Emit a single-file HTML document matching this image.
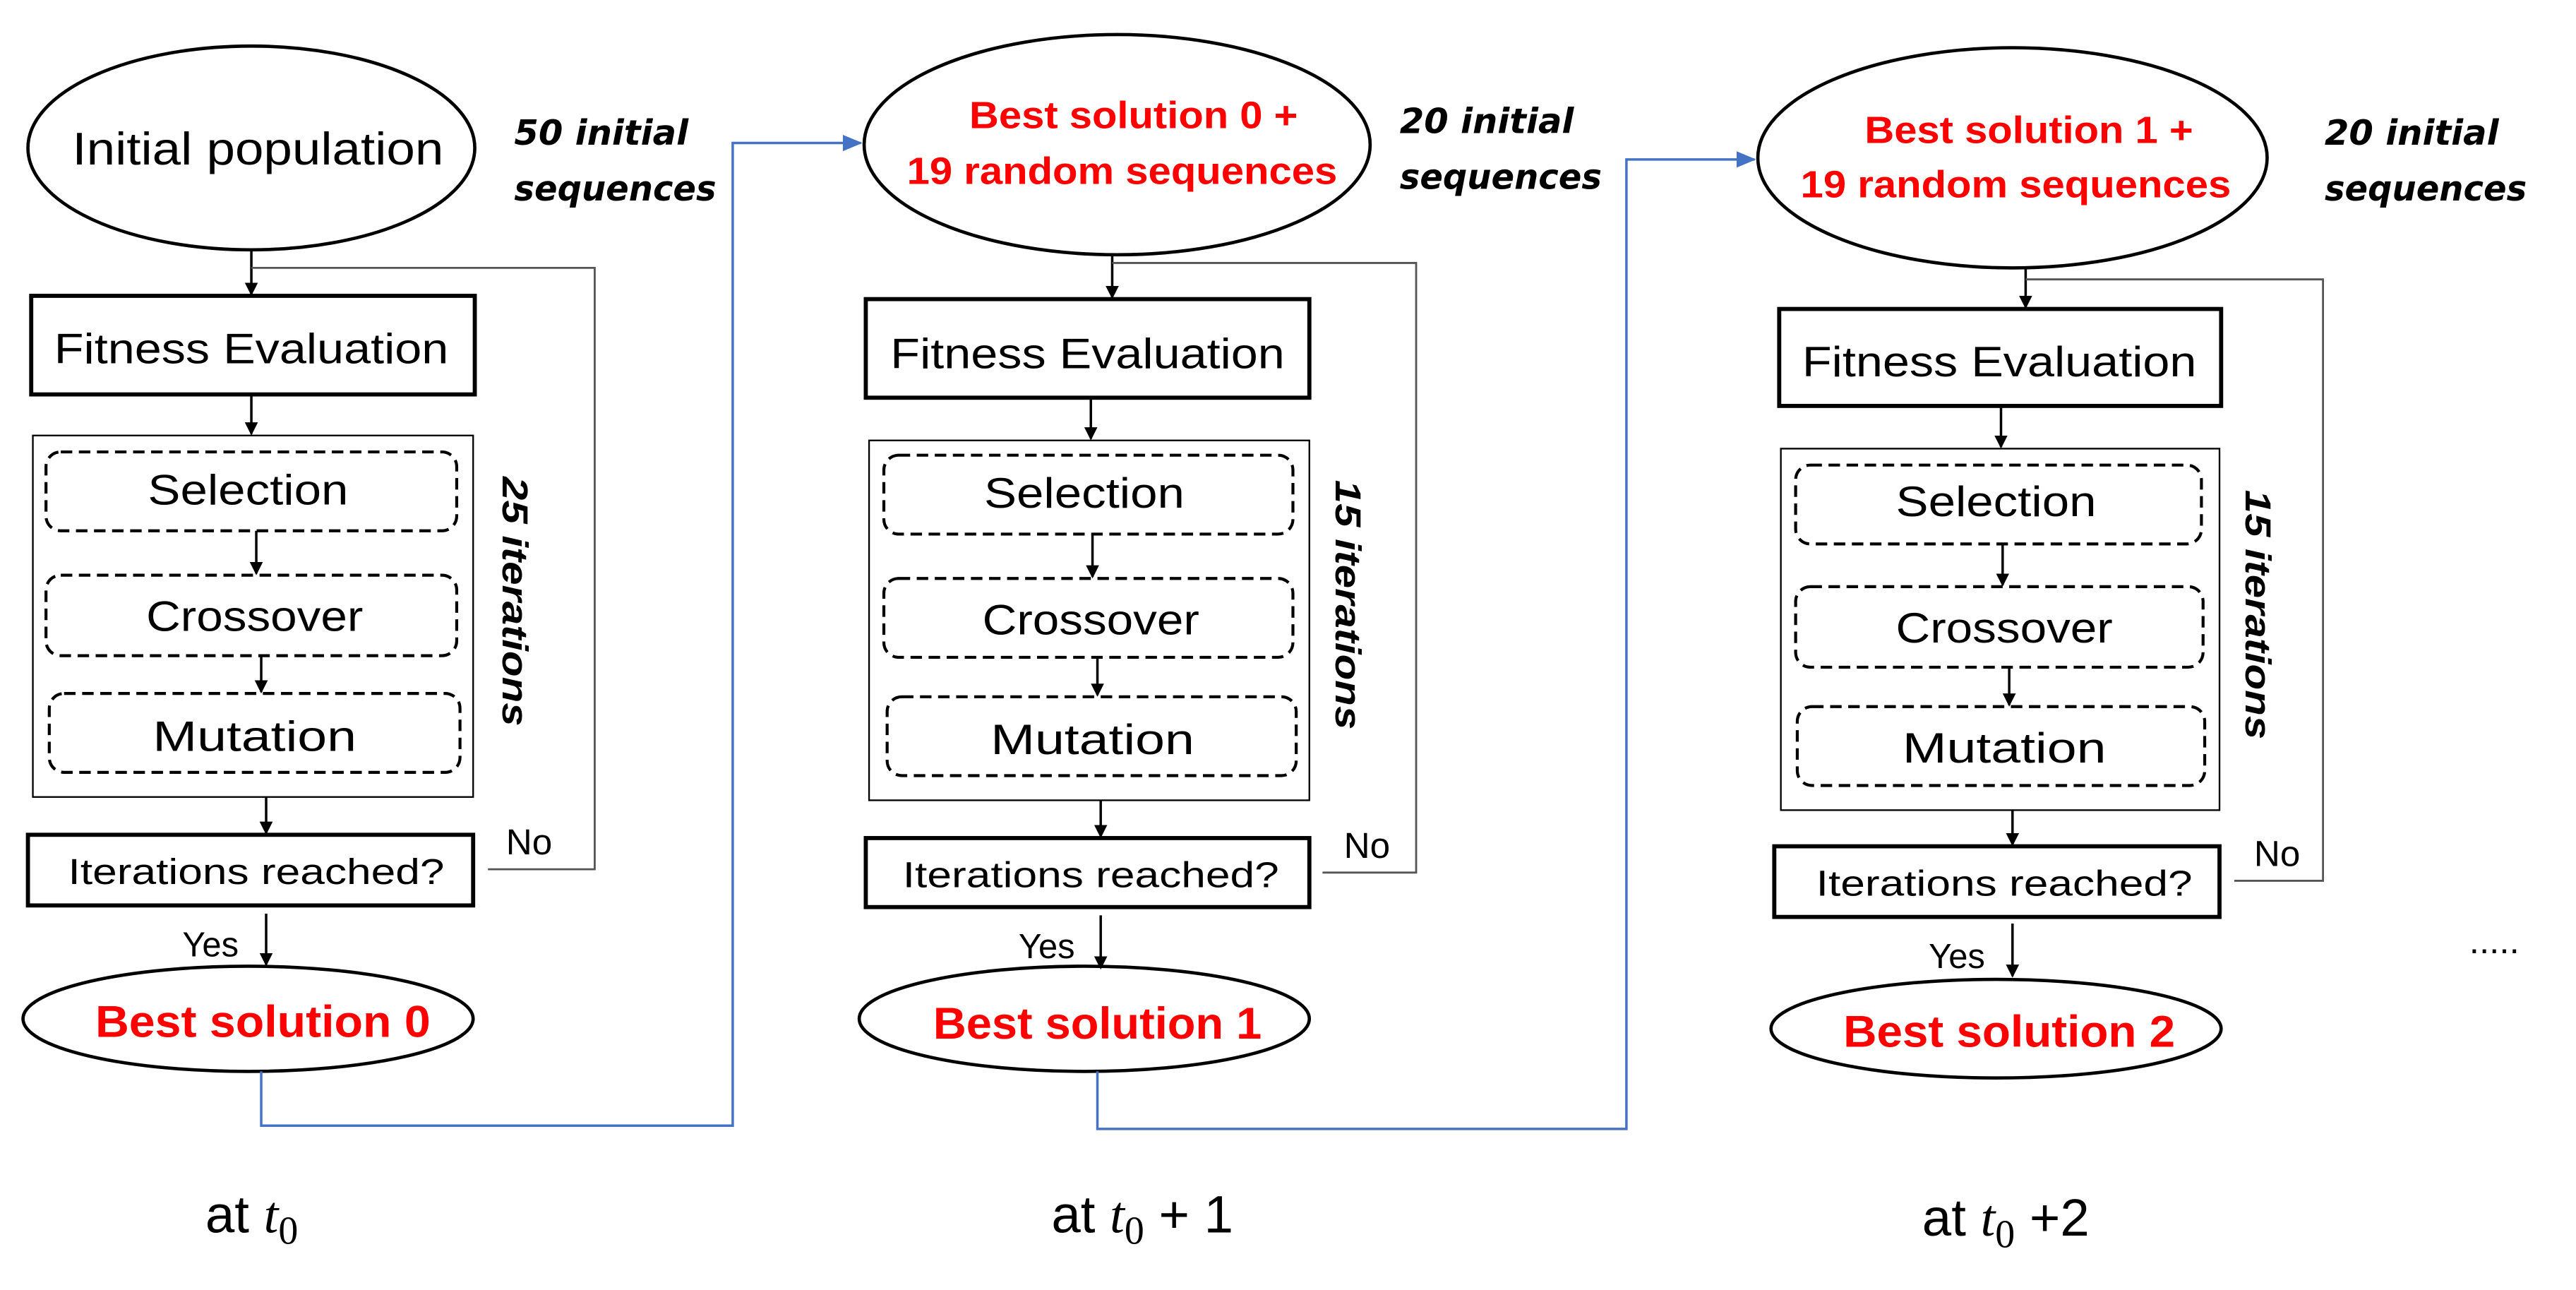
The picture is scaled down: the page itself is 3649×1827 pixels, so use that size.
<!DOCTYPE html>
<html><head><meta charset="utf-8"><style>
html,body{margin:0;padding:0;background:#fff;}
svg{display:block;}
text{font-family:"Liberation Sans",sans-serif;}
.b{font-size:26px;fill:#000;}
.it{font-family:"DejaVu Sans","Liberation Sans",sans-serif;font-weight:bold;font-style:italic;font-size:21px;fill:#000;}
.red{font-weight:bold;fill:#ff0000;}
</style></head><body>
<svg width="3649" height="1827" viewBox="0 0 1568 785" xmlns="http://www.w3.org/2000/svg">
<defs>
<marker id="ah" markerWidth="8" markerHeight="8" refX="7" refY="4" orient="auto" markerUnits="userSpaceOnUse"><path d="M0,0 L8,4 L0,8 z" fill="#000"/></marker>
<marker id="bh" markerWidth="12" markerHeight="10" refX="11" refY="5" orient="auto" markerUnits="userSpaceOnUse"><path d="M0,0 L12,5 L0,10 z" fill="#4472c4"/></marker>
</defs>
<rect width="1568" height="785" fill="#fff"/>
<g fill="none" stroke="#000">
<ellipse cx="153" cy="90" rx="136" ry="62" stroke-width="2"/>
<line x1="153" y1="152" x2="153" y2="179" stroke-width="1.5" marker-end="url(#ah)"/>
<polyline points="153,163 362,163 362,529 297,529" stroke="#555" stroke-width="1.2"/>
<rect x="19" y="180" width="270" height="60" stroke-width="2.5"/>
<line x1="153" y1="240" x2="153" y2="264" stroke-width="1.5" marker-end="url(#ah)"/>
<rect x="20" y="265" width="268" height="220" stroke-width="1"/>
<rect x="28" y="275" width="250" height="48" rx="9" stroke-width="1.8" stroke-dasharray="7,4"/>
<rect x="28" y="350" width="250" height="49" rx="9" stroke-width="1.8" stroke-dasharray="7,4"/>
<rect x="30" y="422" width="250" height="48" rx="9" stroke-width="1.8" stroke-dasharray="7,4"/>
<line x1="156" y1="323" x2="156" y2="349" stroke-width="1.5" marker-end="url(#ah)"/>
<line x1="159" y1="399" x2="159" y2="421" stroke-width="1.5" marker-end="url(#ah)"/>
<line x1="162" y1="485" x2="162" y2="507" stroke-width="1.5" marker-end="url(#ah)"/>
<rect x="17" y="508" width="271" height="43" stroke-width="2.5"/>
<line x1="162" y1="556" x2="162" y2="587" stroke-width="1.5" marker-end="url(#ah)"/>
<ellipse cx="151" cy="620" rx="137" ry="32" stroke-width="2"/>
<ellipse cx="680" cy="88" rx="154" ry="67" stroke-width="2"/>
<line x1="677" y1="155" x2="677" y2="181" stroke-width="1.5" marker-end="url(#ah)"/>
<polyline points="677,160 862,160 862,531 805,531" stroke="#555" stroke-width="1.2"/>
<rect x="527" y="182" width="270" height="60" stroke-width="2.5"/>
<line x1="664" y1="242" x2="664" y2="267" stroke-width="1.5" marker-end="url(#ah)"/>
<rect x="529" y="268" width="268" height="219" stroke-width="1"/>
<rect x="538" y="277" width="249" height="48" rx="9" stroke-width="1.8" stroke-dasharray="7,4"/>
<rect x="538" y="352" width="249" height="48" rx="9" stroke-width="1.8" stroke-dasharray="7,4"/>
<rect x="540" y="424" width="249" height="48" rx="9" stroke-width="1.8" stroke-dasharray="7,4"/>
<line x1="665" y1="325" x2="665" y2="351" stroke-width="1.5" marker-end="url(#ah)"/>
<line x1="668" y1="400" x2="668" y2="423" stroke-width="1.5" marker-end="url(#ah)"/>
<line x1="670" y1="487" x2="670" y2="509" stroke-width="1.5" marker-end="url(#ah)"/>
<rect x="527" y="510" width="270" height="42" stroke-width="2.5"/>
<line x1="670" y1="557" x2="670" y2="589" stroke-width="1.5" marker-end="url(#ah)"/>
<ellipse cx="660" cy="620" rx="137" ry="32" stroke-width="2"/>
<ellipse cx="1225" cy="96" rx="155" ry="67" stroke-width="2"/>
<line x1="1233" y1="163" x2="1233" y2="187" stroke-width="1.5" marker-end="url(#ah)"/>
<polyline points="1233,170 1414,170 1414,536 1360,536" stroke="#555" stroke-width="1.2"/>
<rect x="1083" y="188" width="269" height="59" stroke-width="2.5"/>
<line x1="1218" y1="247" x2="1218" y2="272" stroke-width="1.5" marker-end="url(#ah)"/>
<rect x="1084" y="273" width="267" height="220" stroke-width="1"/>
<rect x="1093" y="283" width="247" height="48" rx="9" stroke-width="1.8" stroke-dasharray="7,4"/>
<rect x="1093" y="357" width="248" height="49" rx="9" stroke-width="1.8" stroke-dasharray="7,4"/>
<rect x="1094" y="430" width="248" height="48" rx="9" stroke-width="1.8" stroke-dasharray="7,4"/>
<line x1="1219" y1="331" x2="1219" y2="356" stroke-width="1.5" marker-end="url(#ah)"/>
<line x1="1223" y1="406" x2="1223" y2="429" stroke-width="1.5" marker-end="url(#ah)"/>
<line x1="1225" y1="493" x2="1225" y2="514" stroke-width="1.5" marker-end="url(#ah)"/>
<rect x="1080" y="515" width="271" height="43" stroke-width="2.5"/>
<line x1="1225" y1="562" x2="1225" y2="594" stroke-width="1.5" marker-end="url(#ah)"/>
<ellipse cx="1215" cy="626" rx="137" ry="30" stroke-width="2"/>
</g>
<g fill="none" stroke="#4472c4" stroke-width="1.5">
<polyline points="159,652 159,685 446,685 446,87 524,87" marker-end="url(#bh)"/>
<polyline points="668,652 668,687 990,687 990,97 1068,97" marker-end="url(#bh)"/>
</g>
<g text-anchor="middle">
<text x="157" y="100" font-size="28" textLength="226" lengthAdjust="spacingAndGlyphs">Initial population</text>
<text x="153" y="221" class="b" textLength="240" lengthAdjust="spacingAndGlyphs">Fitness Evaluation</text>
<text x="151" y="307" class="b" textLength="122" lengthAdjust="spacingAndGlyphs">Selection</text>
<text x="155" y="384" class="b" textLength="132" lengthAdjust="spacingAndGlyphs">Crossover</text>
<text x="155" y="457" class="b" textLength="124" lengthAdjust="spacingAndGlyphs">Mutation</text>
<text x="156" y="538" font-size="22" textLength="229" lengthAdjust="spacingAndGlyphs">Iterations reached?</text>
<text x="160" y="631" font-size="27" class="red" textLength="204" lengthAdjust="spacingAndGlyphs">Best solution 0</text>
<text x="690" y="78" font-size="23" class="red" textLength="200" lengthAdjust="spacingAndGlyphs">Best solution 0 +</text>
<text x="683" y="112" font-size="23" class="red" textLength="262" lengthAdjust="spacingAndGlyphs">19 random sequences</text>
<text x="662" y="224" class="b" textLength="240" lengthAdjust="spacingAndGlyphs">Fitness Evaluation</text>
<text x="660" y="309" class="b" textLength="122" lengthAdjust="spacingAndGlyphs">Selection</text>
<text x="664" y="386" class="b" textLength="132" lengthAdjust="spacingAndGlyphs">Crossover</text>
<text x="665" y="459" class="b" textLength="124" lengthAdjust="spacingAndGlyphs">Mutation</text>
<text x="664" y="540" font-size="22" textLength="229" lengthAdjust="spacingAndGlyphs">Iterations reached?</text>
<text x="668" y="632" font-size="27" class="red" textLength="200" lengthAdjust="spacingAndGlyphs">Best solution 1</text>
<text x="1235" y="87" font-size="23" class="red" textLength="200" lengthAdjust="spacingAndGlyphs">Best solution 1 +</text>
<text x="1227" y="120" font-size="23" class="red" textLength="262" lengthAdjust="spacingAndGlyphs">19 random sequences</text>
<text x="1217" y="229" class="b" textLength="240" lengthAdjust="spacingAndGlyphs">Fitness Evaluation</text>
<text x="1215" y="314" class="b" textLength="122" lengthAdjust="spacingAndGlyphs">Selection</text>
<text x="1220" y="391" class="b" textLength="132" lengthAdjust="spacingAndGlyphs">Crossover</text>
<text x="1220" y="464" class="b" textLength="124" lengthAdjust="spacingAndGlyphs">Mutation</text>
<text x="1220" y="545" font-size="22" textLength="229" lengthAdjust="spacingAndGlyphs">Iterations reached?</text>
<text x="1223" y="637" font-size="27" class="red" textLength="202" lengthAdjust="spacingAndGlyphs">Best solution 2</text>
</g>
<text x="313" y="88" class="it" textLength="106" lengthAdjust="spacingAndGlyphs">50 initial</text>
<text x="313" y="122" class="it" textLength="123" lengthAdjust="spacingAndGlyphs">sequences</text>
<text x="852" y="81" class="it" textLength="106" lengthAdjust="spacingAndGlyphs">20 initial</text>
<text x="852" y="115" class="it" textLength="123" lengthAdjust="spacingAndGlyphs">sequences</text>
<text x="1415" y="88" class="it" textLength="106" lengthAdjust="spacingAndGlyphs">20 initial</text>
<text x="1415" y="122" class="it" textLength="123" lengthAdjust="spacingAndGlyphs">sequences</text>
<text transform="translate(306,290) rotate(90)" font-size="22" font-weight="bold" font-style="italic" textLength="152" lengthAdjust="spacingAndGlyphs">25 iterations</text>
<text transform="translate(813,292) rotate(90)" font-size="22" font-weight="bold" font-style="italic" textLength="152" lengthAdjust="spacingAndGlyphs">15 iterations</text>
<text transform="translate(1367,298) rotate(90)" font-size="22" font-weight="bold" font-style="italic" textLength="152" lengthAdjust="spacingAndGlyphs">15 iterations</text>
<text x="308" y="520" font-size="22">No</text>
<text x="818" y="522" font-size="22">No</text>
<text x="1372" y="527" font-size="22">No</text>
<text x="111" y="582" font-size="21">Yes</text>
<text x="620" y="583" font-size="21">Yes</text>
<text x="1174" y="589" font-size="21">Yes</text>
<text x="1503" y="580" font-size="22">.....</text>
<text x="125" y="750" font-size="32">at <tspan font-family="Liberation Serif,serif" font-style="italic">t</tspan><tspan font-family="Liberation Serif,serif" font-size="24" dy="7">0</tspan></text>
<text x="640" y="750" font-size="32">at <tspan font-family="Liberation Serif,serif" font-style="italic">t</tspan><tspan font-family="Liberation Serif,serif" font-size="24" dy="7">0</tspan><tspan dy="-7"> + 1</tspan></text>
<text x="1170" y="752" font-size="32">at <tspan font-family="Liberation Serif,serif" font-style="italic">t</tspan><tspan font-family="Liberation Serif,serif" font-size="24" dy="7">0</tspan><tspan dy="-7"> +2</tspan></text>
</svg>
</body></html>
